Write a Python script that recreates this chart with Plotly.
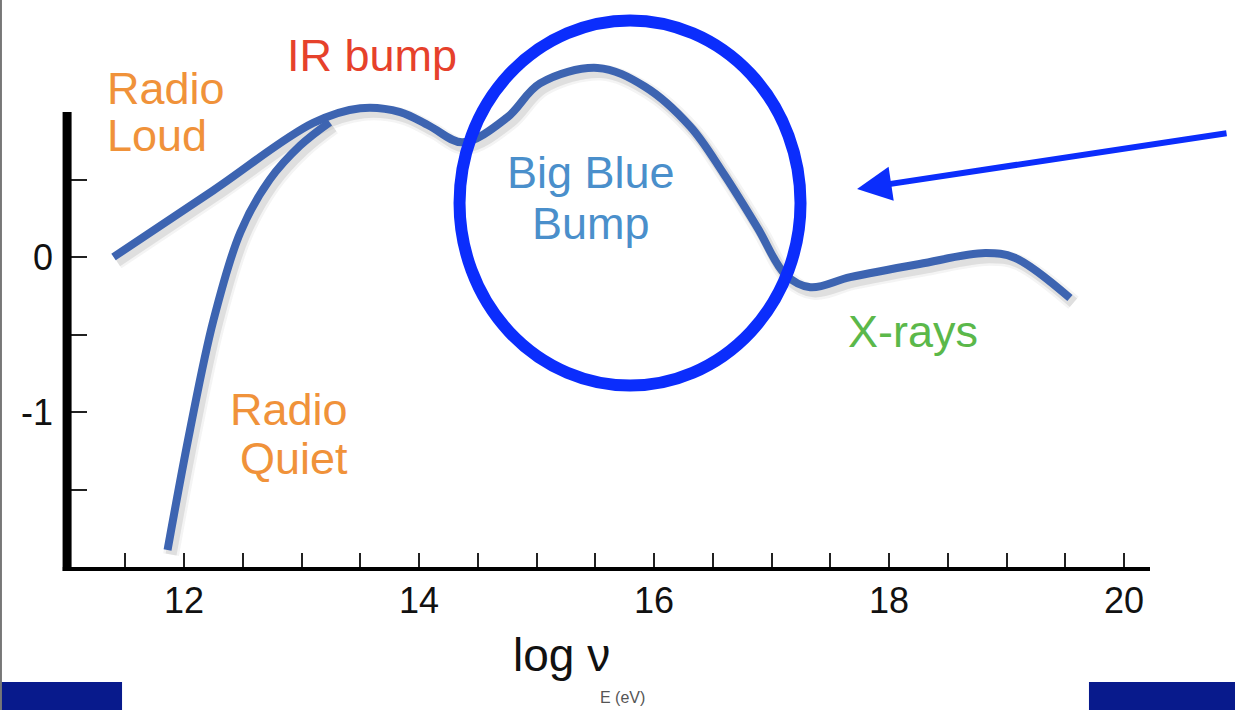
import plotly.graph_objects as go

# Spectral energy distribution sketch: log(nu F_nu) against log(nu)
loud_x = [11.40, 12.25, 13.10, 13.50, 13.84, 14.09, 14.37, 14.75, 15.03, 15.52,
          15.92, 16.31, 16.59, 16.88, 17.12, 17.33, 17.67, 18.26, 18.82, 19.07,
          19.54]
loud_y = [0.00, 0.43, 0.865, 0.96, 0.935, 0.845, 0.74, 0.90, 1.12, 1.22,
          1.10, 0.84, 0.54, 0.19, -0.115, -0.195, -0.13, -0.045, 0.025, -0.005,
          -0.265]

quiet_x = [11.86, 12.05, 12.25, 12.48, 12.73, 12.99, 13.24]
quiet_y = [-1.89, -1.12, -0.41, 0.16, 0.50, 0.72, 0.87]

x_tick_vals = [11.5, 12, 12.5, 13, 13.5, 14, 14.5, 15, 15.5, 16, 16.5, 17,
               17.5, 18, 18.5, 19, 19.5, 20]
x_tick_text = ["", "12", "", "", "", "14", "", "", "", "16", "", "", "",
               "18", "", "", "", "20"]
y_tick_vals = [-1.5, -1, -0.5, 0, 0.5]
y_tick_text = ["", "-1", "", "0", ""]

X_RANGE = [10.9957, 20.2213]
Y_RANGE = [-2.0258, 1.6258]
Y_AXIS_SPAN = [-2.05, 0.935]

CURVE = "#3d64b1"
RING = "#0b2dfc"
ORANGE = "#f0923a"
FONT = "Liberation Sans, Arial, Helvetica, sans-serif"

fig = go.Figure()

# soft drop shadow beneath each curve
for xs, ys in [(loud_x, loud_y), (quiet_x, quiet_y)]:
    for w, a in [(16, 0.05), (11, 0.10)]:
        fig.add_trace(go.Scatter(
            x=[v + 0.03 for v in xs], y=[v - 0.03 for v in ys],
            mode="lines", line=dict(color=f"rgba(40,40,40,{a})", width=w,
                                     shape="spline", smoothing=1.0),
            hoverinfo="skip", showlegend=False))

for xs, ys in [(loud_x, loud_y), (quiet_x, quiet_y)]:
    fig.add_trace(go.Scatter(
        x=xs, y=ys, mode="lines",
        line=dict(color=CURVE, width=8, shape="spline", smoothing=1.0),
        showlegend=False))

shapes = [
    # vertical axis line
    dict(type="line", xref="paper", yref="y", x0=0.001, x1=0.001,
         y0=Y_AXIS_SPAN[0], y1=Y_AXIS_SPAN[1], line=dict(color="black", width=9)),
    # horizontal axis line
    dict(type="line", xref="paper", yref="y", x0=-0.003, x1=1.0,
         y0=Y_RANGE[0], y1=Y_RANGE[0], line=dict(color="black", width=8)),
    # ring round the big blue bump
    dict(type="circle", xref="x", yref="y", x0=14.345, x1=17.247,
         y0=-0.829, y1=1.526, line=dict(color=RING, width=12)),
    # footer bars
    dict(type="rect", xref="paper", yref="paper", x0=-0.0609, x1=0.0517,
         y0=-0.2456, y1=-0.1961, fillcolor="#081a8c", line=dict(width=0)),
    dict(type="rect", xref="paper", yref="paper", x0=0.9437, x1=1.0785,
         y0=-0.2456, y1=-0.1961, fillcolor="#081a8c", line=dict(width=0)),
    # left page edge
    dict(type="line", xref="paper", yref="paper", x0=-0.0600, x1=-0.0600,
         y0=-0.2456, y1=1.0088, line=dict(color="#777777", width=2)),
]


def label(x, y, text, color, xanchor="center"):
    return dict(x=x, y=y, text=text, xanchor=xanchor, yanchor="middle",
                showarrow=False, font=dict(size=45, color=color, family=FONT))


annotations = [
    label(11.328, 1.090, "Radio", ORANGE, "left"),
    label(11.328, 0.781, "Loud", ORANGE, "left"),
    label(13.60, 1.30, "IR bump", "#e6412b"),
    label(15.464, 0.548, "Big Blue", "#4a8fcb"),
    label(15.464, 0.213, "Bump", "#4a8fcb"),
    label(13.413, -0.981, "Radio", ORANGE, "right"),
    label(13.413, -1.303, "Quiet", ORANGE, "right"),
    label(18.20, -0.48, "X-rays", "#5bb84a"),
    # pointer arrow
    dict(x=17.728, y=0.439, ax=371, ay=-56, axref="pixel", ayref="pixel",
         text="", showarrow=True, arrowhead=2, arrowsize=1.15, arrowwidth=6,
         arrowcolor=RING),
    # axis titles
    dict(x=0.457, y=-0.148, xref="paper", yref="paper", text="log ν",
         showarrow=False, xanchor="center", yanchor="middle",
         font=dict(size=46, color="#111111", family=FONT)),
    dict(x=0.513, y=-0.223, xref="paper", yref="paper", text="E (eV)",
         showarrow=False, xanchor="center", yanchor="middle",
         font=dict(size=16, color="#555555", family=FONT)),
]

fig.update_layout(
    width=1235, height=710,
    margin=dict(l=66, r=85, t=5, b=139, pad=0),
    paper_bgcolor="white", plot_bgcolor="white",
    shapes=shapes, annotations=annotations,
    xaxis=dict(range=X_RANGE, showgrid=False, zeroline=False, showline=False,
               tickmode="array", tickvals=x_tick_vals, ticktext=x_tick_text,
               ticks="inside", ticklen=18, tickwidth=2, tickcolor="#222222",
               ticklabelstandoff=5,
               tickfont=dict(size=36, color="#111111", family=FONT)),
    yaxis=dict(range=Y_RANGE, showgrid=False, zeroline=False, showline=False,
               tickmode="array", tickvals=y_tick_vals, ticktext=y_tick_text,
               ticks="inside", ticklen=21, tickwidth=2, tickcolor="#222222",
               ticklabelstandoff=12,
               tickfont=dict(size=36, color="#111111", family=FONT)),
)

fig.write_html("out.html")
